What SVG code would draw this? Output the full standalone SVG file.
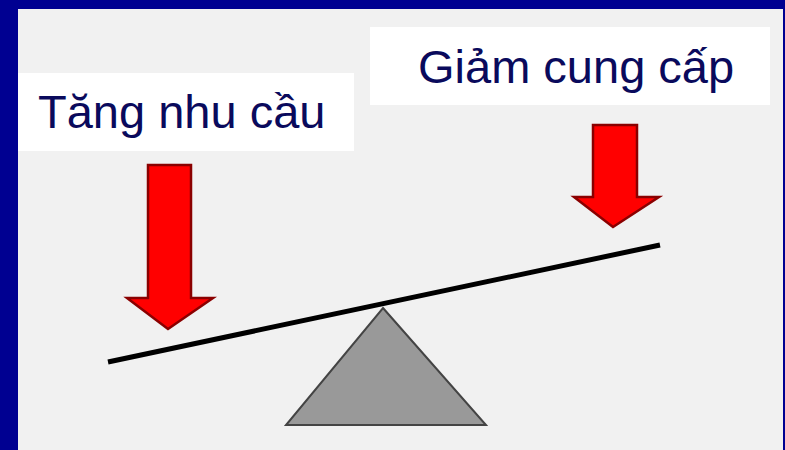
<svg xmlns="http://www.w3.org/2000/svg" width="785" height="450" viewBox="0 0 785 450">
<style>
.lbl{font-family:"Liberation Sans",Arial,sans-serif;font-size:47px;fill:#0a0a5c}
.box{fill:#ffffff}
.arrow{fill:#ff0000;stroke:#8a0000;stroke-width:2.5;stroke-linejoin:miter}
</style>
<rect x="0" y="0" width="785" height="450" fill="#000091"/>
<rect x="18" y="9" width="765" height="441" fill="#f1f1f1"/>
<g id="label-demand">
<rect class="box" x="18" y="73" width="336" height="78"/>
<text class="lbl" x="38" y="128">Tăng nhu cầu</text>
</g>
<g id="label-supply">
<rect class="box" x="370" y="27" width="400" height="78"/>
<text class="lbl" x="418" y="83">Giảm cung cấp</text>
</g>
<g id="arrow-left">
<polygon class="arrow" points="148,165 191,165 191,298 213,298 168,329 127,298 148,298"/>
</g>
<g id="arrow-right">
<polygon class="arrow" points="593,125 637,125 637,197 659,197 613,227 574,197 593,197"/>
</g>
<g id="fulcrum">
<polygon points="383,308 486,425 286,425" fill="#999999" stroke="#444444" stroke-width="2"/>
</g>
<g id="beam">
<line x1="108" y1="362" x2="660" y2="245" stroke="#000000" stroke-width="5"/>
</g>
</svg>
